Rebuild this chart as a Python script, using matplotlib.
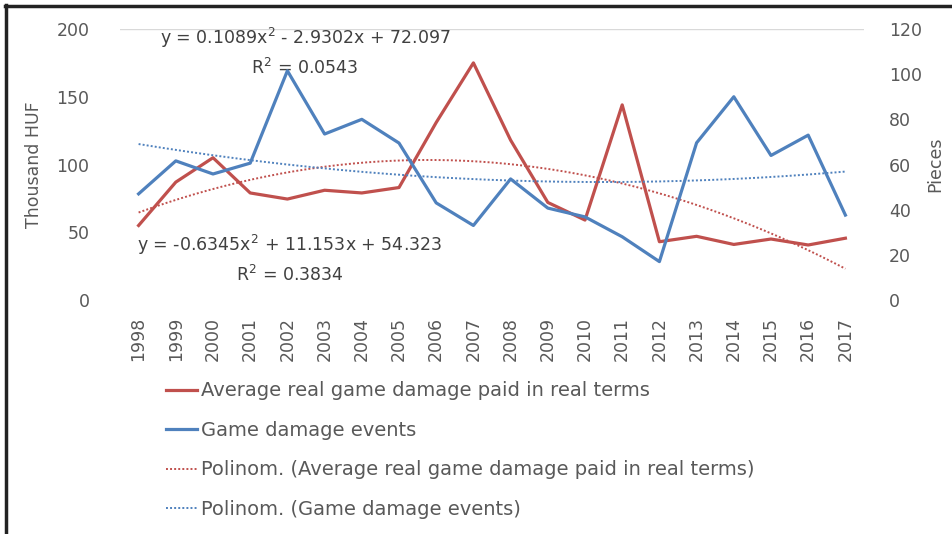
import numpy as np
import matplotlib
matplotlib.use("Agg")
import matplotlib.pyplot as plt
from matplotlib.lines import Line2D

# data
years = [str(y) for y in range(1998, 2018)]
damage_paid = [55, 87, 105, 79, 74.5, 81, 79, 83, 131, 175,
               118, 72, 59, 144, 43, 47, 41, 45, 40.6, 45.6]   # thousand HUF
damage_events = [47, 61.6, 55.8, 60.6, 101.5, 73.5, 80, 69.5, 43, 33,
                 53.6, 40.7, 36.8, 28, 17, 69.6, 90, 64, 73, 37.6]  # pieces

eq_events = "y = 0.1089x$^2$ - 2.9302x + 72.097\nR$^2$ = 0.0543"
eq_paid = "y = -0.6345x$^2$ + 11.153x + 54.323\nR$^2$ = 0.3834"

red = "#C0504D"
blue = "#4F81BD"
txt = "#595959"

plt.rcParams["font.family"] = "DejaVu Sans"

fig = plt.figure(figsize=(9.52, 5.34), dpi=100)
ax = fig.add_axes([120/952, 1-300/534, 744/952, 271/534])
ax2 = ax.twinx()

x = np.arange(len(years))
xn = x + 1  # excel trendline x values
xs = np.linspace(1, len(years), 200)

# trendlines (2nd order polynomial)
cp = np.polyfit(xn, damage_paid, 2)
ce = np.polyfit(xn, damage_events, 2)

l1, = ax.plot(x, damage_paid, color=red, lw=2.3, zorder=3)
t1, = ax.plot(xs - 1, np.polyval(cp, xs), color=red, lw=1.4, ls=(0, (1, 1.1)), zorder=2)
l2, = ax2.plot(x, damage_events, color=blue, lw=2.3, zorder=3)
t2, = ax2.plot(xs - 1, np.polyval(ce, xs), color=blue, lw=1.4, ls=(0, (1, 1.1)), zorder=2)

ax.set_xlim(-0.5, len(years) - 0.5)
ax.set_ylim(0, 200)
ax2.set_ylim(0, 120)
ax.set_yticks(range(0, 201, 50))
ax2.set_yticks(range(0, 121, 20))
ax.set_xticks(x)
ax.set_xticklabels(years, rotation=90)

for a in (ax, ax2):
    for s in a.spines.values():
        s.set_visible(False)
    a.tick_params(length=0, labelsize=12.5, colors=txt)
ax.tick_params(axis="y", pad=22)
ax2.tick_params(axis="y", pad=18)
ax.tick_params(axis="x", pad=12)
ax.axhline(200, color="#D9D9D9", lw=1, zorder=1)

ax.set_ylabel("Thousand HUF", fontsize=12.5, color=txt, labelpad=10)
ax2.set_ylabel("Pieces", fontsize=12.5, color=txt, labelpad=3)

ax.text(305/952, 1-52/534, eq_events, transform=fig.transFigure, ha="center", va="center",
        fontsize=12.5, color="#404040", linespacing=1.5)
ax.text(290/952, 1-259/534, eq_paid, transform=fig.transFigure, ha="center", va="center",
        fontsize=12.5, color="#404040", linespacing=1.5)

fig.legend([l1, l2, t1, t2],
           ["Average real game damage paid in real terms", "Game damage events",
            "Polinom. (Average real game damage paid in real terms)",
            "Polinom. (Game damage events)"],
           loc="upper left", bbox_to_anchor=(148/952, 1-364/534), frameon=False,
           fontsize=14, labelcolor=txt, handlelength=1.6, handletextpad=0.25,
           labelspacing=1.05)

# outer frame (left and top edges visible)
fig.add_artist(Line2D([6/952, 6/952], [0, 1-5/534], transform=fig.transFigure, color="#222222", lw=2.5))
fig.add_artist(Line2D([5/952, 1], [1-6/534, 1-6/534], transform=fig.transFigure, color="#222222", lw=2.5))

fig.savefig("out.png", dpi=100)
